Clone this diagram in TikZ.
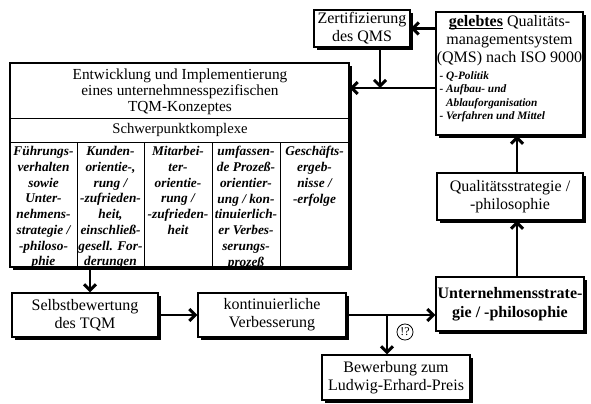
\documentclass[tikz,border=0pt]{standalone}
\usepackage{fontspec}
\setmainfont{Liberation Serif}
\usetikzlibrary{arrows.meta,shadows}

\newsavebox{\strichbox}
\newcommand{\unterstrich}[1]{\sbox{\strichbox}{#1}\rlap{\rule[-1.8pt]{\wd\strichbox}{0.8pt}}\usebox{\strichbox}}

\tikzset{every picture/.style={line width=0.75pt}}
\tikzset{
  kasten/.style={draw, fill=white, line width=1pt, align=center, inner sep=0pt,
    font=\fontsize{12}{13.5}\selectfont,
    drop shadow={shadow xshift=2.2pt, shadow yshift=-2.2pt, fill=black, opacity=1}},
  pfeil/.style={line width=2.2pt, -{Straight Barb[length=4.5pt,width=9pt]}},
  spalte/.style={anchor=north, align=center, inner sep=0pt,
    font=\fontsize{10}{11.8}\selectfont\bfseries\itshape},
}

\begin{document}
\begin{tikzpicture}[x=0.75pt,y=0.75pt,yscale=-1,xscale=1]
\useasboundingbox (0,0) rectangle (591,403);

%Shape: Rectangle [Zertifizierung]
\node [kasten, minimum width=72pt, minimum height=27.75pt] (zert) at (362,28.5) {Zertifizierung\\des QMS};
%Shape: Rectangle [QMS]
\node [kasten, minimum width=110.25pt, minimum height=92.25pt] (qms) at (509.5,73.5) {};
% Text Node
\node [anchor=north, inner sep=0pt, align=center, font=\fontsize{12}{13.5}\selectfont] (qmskopf) at (509.5,15) {\unterstrich{\textbf{gelebtes}} Qualitäts-\\managementsystem\\(QMS) nach ISO 9000};
% Text Node
\node [anchor=north west, inner sep=0pt, align=left, font=\fontsize{8.5}{10}\selectfont\bfseries\itshape] (qmsliste) at (439,71) {- Q-Politik\\- Aufbau- und\\\hphantom{- }Ablauforganisation\\- Verfahren und Mittel};

%Shape: Rectangle [TQM]
\node [kasten, minimum width=254.25pt, minimum height=153pt] (tqm) at (179.5,165) {};
%Straight Lines
\draw (10,118) -- (349,118);
\draw (10,142) -- (349,142);
\foreach \x in {77,144,212,280} \draw (\x,142) -- (\x,267);
% Text Node
\node [anchor=north, inner sep=0pt, align=center, font=\fontsize{11.5}{12}\selectfont] (titel) at (180,68) {Entwicklung und Implementierung\\eines unternehmnesspezifischen\\TQM-Konzeptes};
% Text Node
\node [inner sep=0pt, font=\fontsize{11}{12}\selectfont] (schwer) at (180,130) {Schwerpunktkomplexe};
% Text Node
\node [spalte] (sp1) at (43.5,146) {Führungs-\\verhalten\\sowie\\Unter-\\nehmens-\\strategie /\\-philoso-\\phie};
\node [spalte] (sp2) at (110.5,146) {Kunden-\\orientie-,\\rung /\\-zufrieden-\\heit,\\einschließ-\\gesell. For-\\derungen};
\node [spalte] (sp3) at (178,146) {Mitarbei-\\ter-\\orientie-\\rung /\\-zufrieden-\\heit};
\node [spalte] (sp4) at (246,146) {umfassen-\\de Prozeß-\\orientier-\\ung / kon-\\tinuierlich-\\er Verbes-\\serungs-\\prozeß};
\node [spalte] (sp5) at (314.5,146) {Geschäfts-\\ergeb-\\nisse /\\-erfolge};

%Shape: Rectangle [unten]
\node [kasten, minimum width=109.5pt, minimum height=33pt] (selbst) at (85,315) {Selbstbewertung\\des TQM};
\node [kasten, minimum width=111pt, minimum height=33pt] (kont) at (272,315) {kontinuierliche\\Verbesserung};
\node [kasten, minimum width=111pt, minimum height=40.5pt, font=\fontsize{12}{14}\selectfont\bfseries] (untern) at (510,304) {Unternehmensstrate-\\gie / -philosophie};
\node [kasten, minimum width=109.5pt, minimum height=35.25pt] (qual) at (510,196.5) {Qualitätsstrategie /\\-philosophie};
\node [kasten, minimum width=111pt, minimum height=33.75pt] (bewerb) at (396,377.5) {Bewerbung zum\\Ludwig-Erhard-Preis};

\coordinate (zertfuss) at (380,88);
\coordinate (links) at (90,280);
\coordinate (abzweig) at (387,315);
\coordinate (rechts) at (517,250);

%Arrows
\draw [pfeil] (qms.west |- zert.east) -- (zert.east);
\draw [pfeil] (zert.south -| zertfuss) -- (zertfuss);
\draw [pfeil] (qms.west |- zertfuss) -- (tqm.east |- zertfuss);
\draw [pfeil] (tqm.south -| links) -- (selbst.north -| links);
\draw [pfeil] (selbst) -- (kont);
\draw [pfeil] (kont.east) -- (untern.west |- kont.east);
\draw [pfeil] (abzweig) -- (bewerb.north -| abzweig);
\draw [pfeil] (untern.north -| rechts) -- (qual.south -| rechts);
\draw [pfeil] (qual.north -| rechts) -- (qms.south -| rechts);

% Text Node
\node [draw, circle, line width=0.6pt, inner sep=1pt, font=\fontsize{9}{9}\selectfont] (frage) at (405,332) {!?};

\end{tikzpicture}
\end{document}
